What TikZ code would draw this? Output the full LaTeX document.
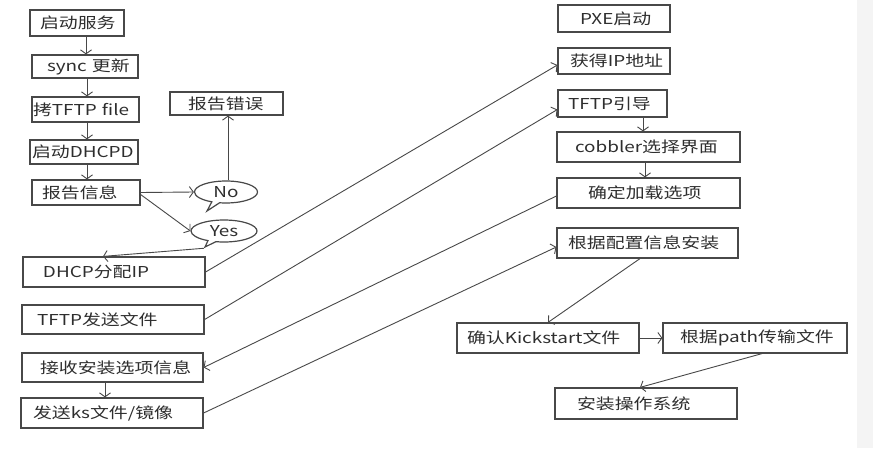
\documentclass[tikz,border=0pt]{standalone}
\usepackage{fontspec}
\newfontfamily\cjk[FakeStretch=1.26]{Noto Sans CJK SC}
\usetikzlibrary{arrows.meta,shapes.callouts}
\definecolor{linec}{HTML}{484848}
\definecolor{txtc}{HTML}{2E2E2E}
\definecolor{bandc}{HTML}{F4F4F4}
\newcommand\bx[7]{% name, x1, y1, x2, y2, text offset, text
  \pgfmathsetmacro\bw{#4-#2}\pgfmathsetmacro\bh{#5-#3}%
  \pgfmathsetmacro\bcx{(#2+#4)/2}\pgfmathsetmacro\bcy{(#3+#5)/2}%
  \node[box, text width=\bw pt, minimum height=\bh pt] (#1) at (\bcx,\bcy) {\hspace*{#6pt}#7};}
\begin{document}
\begin{tikzpicture}[x=1pt,y=-1pt,
  box/.style={draw=linec, line width=1.2pt, inner sep=0pt, align=left, text=txtc,
    font=\cjk\fontsize{15}{18}\selectfont},
  bub/.style={ellipse callout, draw=linec, line width=1.2pt, inner sep=0pt, text=txtc,
    fill=white, font=\cjk\fontsize{15}{18}\selectfont},
  arr/.style={draw=linec, line width=0.9pt, -{Straight Barb[length=4pt,width=11pt]}},
]
\fill[white] (0,0) rectangle (890,460);
\useasboundingbox (0,0) rectangle (890,460);
\fill[bandc] (857,0) rectangle (873,448);

% left column
\bx{a1}{30}{10}{124}{36}{10}{启动服务}
\bx{a2}{32}{55}{138}{78}{15}{sync 更新}
\bx{a3}{32}{97}{139}{122}{1}{拷TFTP file}
\bx{a4}{30}{140}{138}{164}{2}{启动DHCPD}
\bx{a5}{32}{180}{140}{205}{10}{报告信息}
\bx{a6}{170}{92}{283}{115}{18}{报告错误}
\bx{a7}{23}{257}{205}{287}{20}{DHCP分配IP}
\bx{a8}{22}{305}{204}{334}{15}{TFTP发送文件}
\bx{a9}{22}{353}{203}{382}{18}{接收安装选项信息}
\bx{a10}{21}{398}{203}{428}{12}{发送ks文件/镜像}

% right column
\bx{b1}{558}{5}{670}{32}{22}{PXE启动}
\bx{b2}{558}{48}{670}{74}{12}{获得IP地址}
\bx{b3}{558}{90}{667}{117}{10}{TFTP引导}
\bx{b4}{557}{132}{740}{162}{18}{cobbler选择界面}
\bx{b5}{557}{178}{740}{208}{31}{确定加载选项}
\bx{b6}{557}{228}{738}{258}{11}{根据配置信息安装}
\bx{b7}{457}{323}{639}{353}{10}{确认Kickstart文件}
\bx{b8}{663}{323}{847}{353}{17}{根据path传输文件}
\bx{b9}{555}{388}{737}{419}{22}{安装操作系统}

% callouts
\node[bub, minimum width=63pt, minimum height=22pt, callout absolute pointer={(207,211)}] (no) at (226,192) {No};
\node[bub, minimum width=66pt, minimum height=22pt, callout absolute pointer={(205,247)}] (yes) at (224,231) {Yes};

% vertical arrows, left
\draw[arr] ([xshift=9pt]a1.south) -- ([xshift=9pt]a1.south |- a2.north);
\draw[arr] ([xshift=2pt]a2.south) -- ([xshift=2pt]a2.south |- a3.north);
\draw[arr] ([xshift=1.5pt]a3.south) -- ([xshift=1.5pt]a3.south |- a4.north);
\draw[arr] ([xshift=3pt]a4.south) -- ([xshift=3pt]a4.south |- a5.north);
\draw[arr] ([xshift=-7.5pt]a9.south) -- ([xshift=-7.5pt]a9.south |- a10.north);

% decision
\draw[arr] (a5.east) -- (no.west);
\draw[arr] ([yshift=-2pt]a5.east) -- (yes.west);
\draw[arr] ([xshift=2pt]no.north) -- ([xshift=2pt]no.north |- a6.south);
\draw[arr] (yes.pointer) -- ([xshift=-11pt]a7.north);

% cross connectors
\draw[arr] (a7.east) -- ([yshift=-4pt]b2.west);
\draw[arr] (a8.east) -- ([yshift=-6pt]b3.west);
\draw[arr] ([yshift=-3pt]b5.west) -- (a9.east);
\draw[arr] (a10.east) -- ([yshift=-4pt]b6.west);

% right column arrows
\draw[arr] ([xshift=30.5pt]b3.south) -- ([xshift=30.5pt]b3.south |- b4.north);
\draw[arr] ([xshift=-3.5pt]b4.south) -- ([xshift=-3.5pt]b4.south |- b5.north);
\draw[arr] ([xshift=-7.5pt]b6.south) -- (b7.north);
\draw[arr] (b7.east) -- (b8.west);
\draw[arr] ([xshift=7pt]b8.south) -- ([xshift=-6pt]b9.north);
\end{tikzpicture}
\end{document}
